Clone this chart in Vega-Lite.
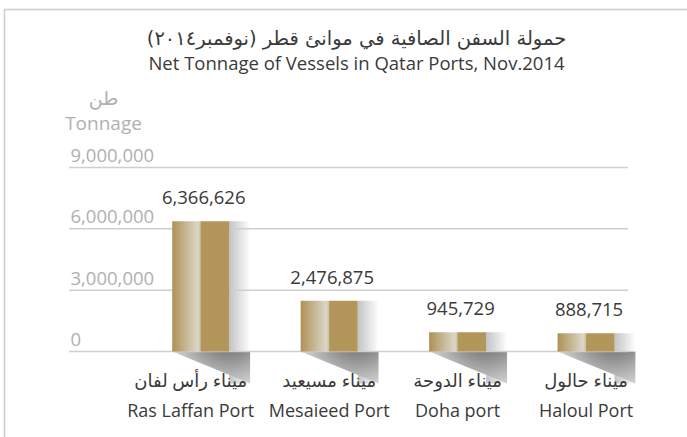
{
  "$schema": "https://vega.github.io/schema/vega-lite/v6.json",
  "width": 683,
  "height": 428,
  "autosize": {"type": "none"},
  "padding": {"left": 4, "top": 9, "right": 0, "bottom": 0},
  "background": "white",
  "config": {"view": {"stroke": null}, "font": "Open Sans, DejaVu Sans, sans-serif"},
  "title": {
    "text": "حمولة السفن الصافية في موانئ قطر (نوفمبر٢٠١٤)",
    "subtitle": "Net Tonnage of Vessels in Qatar Ports, Nov.2014",
    "anchor": "middle",
    "frame": "group",
    "orient": "top",
    "offset": 0,
    "dx": 11,
    "dy": 80,
    "baseline": "alphabetic",
    "font": "DejaVu Sans, Open Sans",
    "fontSize": 19.5,
    "fontWeight": "normal",
    "color": "#3a3a3a",
    "subtitleFont": "Open Sans",
    "subtitleFontSize": 18.5,
    "subtitleColor": "#3a3a3a",
    "subtitlePadding": 5
  },
  "data": {"name": "ports"},
  "datasets": {
    "ports": [
      {"name": "ميناء رأس لفان|Ras Laffan Port", "tonnage": 6366626},
      {"name": "ميناء مسيعيد|Mesaieed Port", "tonnage": 2476875},
      {"name": "ميناء الدوحة|Doha port", "tonnage": 945729},
      {"name": "ميناء حالول|Haloul Port", "tonnage": 888715}
    ],
    "grid": [{"v": 0}, {"v": 3000000}, {"v": 6000000}, {"v": 9000000}]
  },
  "layer": [
    {
      "mark": {"type": "rect", "color": {"gradient": "linear", "x1": 0, "x2": 1, "y1": 0, "y2": 0, "stops": [{"offset": 0, "color": "#c2c3c6"}, {"offset": 1, "color": "#ffffff"}]}},
      "encoding": {
        "x": {"field": "name", "type": "nominal", "bandPosition": 1},
        "x2": {"field": "name", "bandPosition": 1.37},
        "y": {"field": "tonnage", "type": "quantitative"},
        "y2": {"datum": -1565217}
      }
    },
    {
      "mark": {"type": "point", "shape": "M0,0L2,0L2,0.82Z", "size": 6084, "filled": true, "opacity": 1, "strokeWidth": 0,
        "color": {"gradient": "radial", "x1": 0.72, "y1": 0, "r1": 0, "x2": 0.72, "y2": 0, "r2": 1, "stops": [{"offset": 0, "color": "#4a4a4a"}, {"offset": 0.5, "color": "#a5a5a5"}, {"offset": 1, "color": "#ffffff"}]}},
      "encoding": {
        "x": {"field": "name", "type": "nominal", "bandPosition": 0},
        "y": {"datum": 0, "type": "quantitative"}
      }
    },
    {
      "data": {"name": "grid"},
      "mark": {"type": "rule", "color": "#cfcfcf", "strokeWidth": 1.5},
      "encoding": {
        "y": {"field": "v", "type": "quantitative"},
        "x": {"datum": "ميناء رأس لفان|Ras Laffan Port", "bandPosition": -1.811},
        "x2": {"datum": "ميناء حالول|Haloul Port", "bandPosition": 1.236}
      }
    },
    {
      "mark": {"type": "bar", "color": {"gradient": "linear", "x1": 0, "x2": 1, "y1": 0, "y2": 0, "stops": [{"offset": 0, "color": "#ae9155"}, {"offset": 0.45, "color": "#dcd7c8"}, {"offset": 0.49, "color": "#cdc4ab"}, {"offset": 0.51, "color": "#b3965a"}, {"offset": 1, "color": "#b3965a"}]}},
      "encoding": {
        "x": {
          "field": "name", "type": "nominal", "sort": null,
          "scale": {"type": "band", "domain": ["ميناء رأس لفان|Ras Laffan Port", "ميناء مسيعيد|Mesaieed Port", "ميناء الدوحة|Doha port", "ميناء حالول|Haloul Port"], "paddingInner": 0.5562, "paddingOuter": 0.9368, "align": 0.699},
          "axis": {"orient": "top", "zindex": 1, "ticks": false, "tickSize": 0, "domain": true, "domainColor": "#cccccc", "domainWidth": 1.5, "grid": false,
            "labelExpr": "split(datum.value, '|')", "labelPadding": -377, "labelBaseline": "alphabetic", "labelAlign": "center", "labelAngle": 0,
            "labelOffset": {"condition": {"test": "indexof(datum.value, 'Ras Laffan') >= 0", "value": -10}, "value": 0},
            "labelFontSize": 18, "labelColor": "#3a3a3a", "labelLineHeight": 30, "labelOverlap": false, "labelBound": false, "labelFlush": false, "labelLimit": 0, "title": null}
        },
        "y": {
          "field": "tonnage", "type": "quantitative",
          "scale": {"domain": [-4182065, 16752717], "nice": false, "zero": false},
          "axis": {"orient": "left", "values": [0, 3000000, 6000000, 9000000], "format": ",d", "grid": false, "ticks": false, "tickSize": 0,
            "domain": true, "domainColor": "#cccccc", "domainWidth": 1.5,
            "labelAlign": "left", "labelBaseline": "alphabetic", "labelPadding": -66, "labelOffset": -6, "labelFontSize": 18.5, "labelColor": "#b0b0b0",
            "labelOverlap": false, "labelBound": false, "labelFlush": false,
            "title": ["طن", "Tonnage"], "titleAngle": 0, "titleAlign": "center", "titleBaseline": "alphabetic", "titleX": 99, "titleY": 95,
            "titleFontSize": 19, "titleFontWeight": "normal", "titleColor": "#b0b0b0", "titleLineHeight": 25}
        },
        "y2": {"datum": 0}
      }
    },
    {
      "mark": {"type": "text", "dy": -17, "dx": 3, "fontSize": 18.5, "color": "#3a3a3a", "baseline": "alphabetic"},
      "encoding": {
        "x": {"field": "name", "type": "nominal", "bandPosition": 0.5},
        "y": {"field": "tonnage", "type": "quantitative"},
        "text": {"field": "tonnage", "type": "quantitative", "format": ","}
      }
    }
  ]
}
